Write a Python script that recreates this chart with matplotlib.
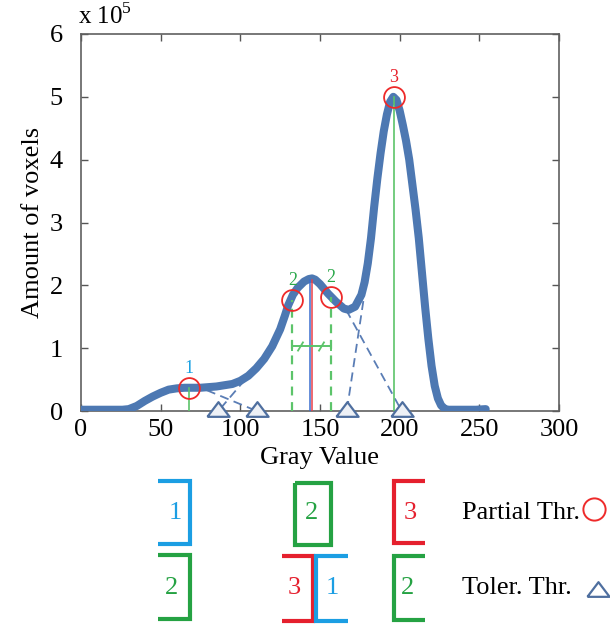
import matplotlib
matplotlib.use("Agg")
import matplotlib.pyplot as plt
import numpy as np

plt.rcParams['font.family'] = ['Liberation Serif', 'DejaVu Serif']
plt.rcParams['mathtext.fontset'] = 'custom'
plt.rcParams['mathtext.rm'] = 'Liberation Serif'

# ---------------- data ----------------
gray = [0, 10, 20, 26, 30, 35, 40, 45, 50, 55, 60, 65, 70, 75, 80, 85, 90, 95,
        100, 105, 110, 115, 120, 125, 128, 130, 133, 136, 140, 143, 145, 147,
        150, 155, 160, 165, 168, 172, 176, 178, 180, 182, 184, 186, 188, 190,
        192, 194, 196, 198, 200, 202, 204, 206, 208, 210, 212, 214, 216, 218,
        220, 222, 224, 226, 228, 230, 240, 248, 254]
counts = [0.02, 0.02, 0.02, 0.02, 0.03, 0.08, 0.16, 0.23, 0.29, 0.34, 0.36, 0.37,
          0.37, 0.37, 0.38, 0.39, 0.41, 0.43, 0.48, 0.56, 0.68, 0.83, 1.03, 1.30,
          1.52, 1.68, 1.85, 1.96, 2.06, 2.10, 2.11, 2.09, 2.02, 1.87, 1.74, 1.63,
          1.61, 1.66, 1.85, 2.05, 2.35, 2.75, 3.25, 3.70, 4.10, 4.45, 4.72, 4.92,
          5.00, 4.95, 4.78, 4.55, 4.30, 4.00, 3.60, 3.20, 2.75, 2.20, 1.65, 1.15,
          0.72, 0.40, 0.20, 0.09, 0.04, 0.02, 0.02, 0.02, 0.03]

partial_x = [68, 132.6, 157, 196.5]
partial_y = [0.37, 1.76, 1.81, 5.0]
partial_lbl = ['1', '2', '2', '3']
partial_lbl_col = ['#1ba1e2', '#2aa84a', '#2aa84a', '#e8202a']

toler_x = [86.2, 110.3, 166.8, 201.3]

# tolerance construction lines (start gray, start count, end gray)
tol_line_x0 = [79, 103, 166.4, 177.2]
tol_line_y0 = [0.33, 0.50, 1.61, 1.75]
tol_line_x1 = [110.3, 86.2, 201.3, 166.8]

peak2_x = 144.2
peak2_y = 2.08
bar_y = 1.03

xticks = [0, 50, 100, 150, 200, 250, 300]
yticks = [0, 1, 2, 3, 4, 5, 6]

# ---------------- figure ----------------
W, H = 610, 625
fig = plt.figure(figsize=(W / 100, H / 100), dpi=100)
ax = fig.add_axes([81 / W, 1 - 411 / H, (559 - 81) / W, (411 - 34) / H])

curve_col = '#4d78b2'
green = '#5cc46a'
tri = [(-1, -0.66), (1, -0.66), (0, 0.66), (-1, -0.66)]

ax.plot(gray, counts, color=curve_col, lw=5.8, solid_capstyle='round',
        solid_joinstyle='round', zorder=3)

# construction lines
for x0, y0, x1 in zip(tol_line_x0, tol_line_y0, tol_line_x1):
    ax.plot([x0, x1], [y0, 0], color='#5a7db5', lw=1.3, ls=(0, (5, 3)), zorder=2)

# green verticals at partial thresholds 1 and 3
ax.plot([partial_x[0], partial_x[0]], [0, partial_y[0]], color=green, lw=1.2, zorder=4)
ax.plot([partial_x[3], partial_x[3]], [0, partial_y[3]], color=green, lw=1.2, zorder=4)
# dashed green verticals for region 2
for xv, yv in zip(partial_x[1:3], partial_y[1:3]):
    ax.plot([xv, xv], [0, yv], color=green, lw=1.6, ls=(0, (4, 3)), zorder=4)
# blue / red line at peak 2
ax.plot([peak2_x - 0.5, peak2_x - 0.5], [0, peak2_y], color='#3a6fd0', lw=1.1, zorder=4)
ax.plot([peak2_x + 0.6, peak2_x + 0.6], [0, peak2_y], color='#e8404a', lw=1.1, zorder=4)
# green horizontal bar with caps and slashes
ax.plot([partial_x[1], partial_x[2]], [bar_y, bar_y], color=green, lw=1.4, zorder=4)
ax.plot([partial_x[1], partial_x[2]], [bar_y, bar_y], ls='none', marker='|',
        ms=7, mew=1.4, color=green, zorder=4)
slash = [(-0.6, -1), (0.6, 1)]
ax.plot([137.5, 150.5], [bar_y, bar_y], ls='none', marker=slash, ms=7, mew=1.3,
        color=green, zorder=4)

# partial threshold circles and labels
ax.plot(partial_x, partial_y, ls='none', marker='o', ms=15, mfc='none',
        mec='#ee2a2a', mew=1.3, zorder=5)
for xv, yv, t, c in zip(partial_x, partial_y, partial_lbl, partial_lbl_col):
    ax.text(xv, yv + 0.31, t, color=c, fontsize=13, ha='center', va='center', zorder=6)

# tolerance triangles
ax.plot(toler_x, [0.03] * len(toler_x), ls='none', marker=tri, ms=16,
        mfc='#eef1f6', mec='#4f6f9f', mew=1.6, clip_on=False, zorder=6)

ax.set_xlim(0, 300)
ax.set_ylim(0, 6)
ax.set_xticks(xticks)
ax.set_yticks(yticks)
ax.tick_params(direction='in', top=True, right=True, length=5, width=1,
               color='#555555', labelsize=19)
ax.tick_params(axis='y', pad=13)
ax.tick_params(axis='x', pad=6)
for s in ax.spines.values():
    s.set_color('#606060')
    s.set_linewidth(1.2)
ax.set_xlabel('Gray Value', fontsize=19, labelpad=4)
ax.set_ylabel('Amount of voxels', fontsize=19, labelpad=4)

fig.text(78 / W, 1 - 24 / H, r'x 10$^{5}$', fontsize=18, ha='left', va='baseline')

# ---------------- bottom legend ----------------
lax = fig.add_axes([0, 0, 1, 1])
lax.set_xlim(0, W)
lax.set_ylim(H, 0)
lax.axis('off')
lax.patch.set_alpha(0)

c_blue = '#1b9ee3'
c_green = '#25a243'
c_red = '#e5202e'
blw = 3.0

brackets = [
    ([158, 190, 190, 158], [481, 481, 544, 544], c_blue),
    ([295, 331, 331, 295, 295], [483, 483, 545, 545, 483], c_green),
    ([425, 394, 394, 425], [481, 481, 543, 543], c_red),
    ([158, 190, 190, 158], [555, 555, 619, 619], c_green),
    ([282, 313, 313, 282], [556, 556, 621, 621], c_red),
    ([348, 316, 316, 348], [556, 556, 621, 621], c_blue),
    ([425, 394, 394, 425], [556, 556, 620, 620], c_green),
]
for bx, by, c in brackets:
    lax.plot(bx, by, color=c, lw=blw, solid_joinstyle='miter', solid_capstyle='butt')

nums = [(175, 513, '1', c_blue), (312, 513, '2', c_green), (410, 513, '3', c_red),
        (172, 588, '2', c_green), (294, 588, '3', c_red), (332, 588, '1', c_blue),
        (408, 588, '2', c_green)]
for x, y, t, c in nums:
    lax.text(x, y, t, color=c, fontsize=19, ha='center', va='center')

lax.text(462, 513, 'Partial Thr.', fontsize=19, ha='left', va='center')
lax.text(462, 588, 'Toler. Thr.', fontsize=19, ha='left', va='center')
lax.plot([594], [509], marker='o', ms=16, mfc='none', mec='#ee2a2a', mew=1.4)
lax.plot([598], [589], marker=tri, ms=16, mfc='none', mec='#4f6f9f', mew=1.6)

fig.savefig('out.png', dpi=100)
